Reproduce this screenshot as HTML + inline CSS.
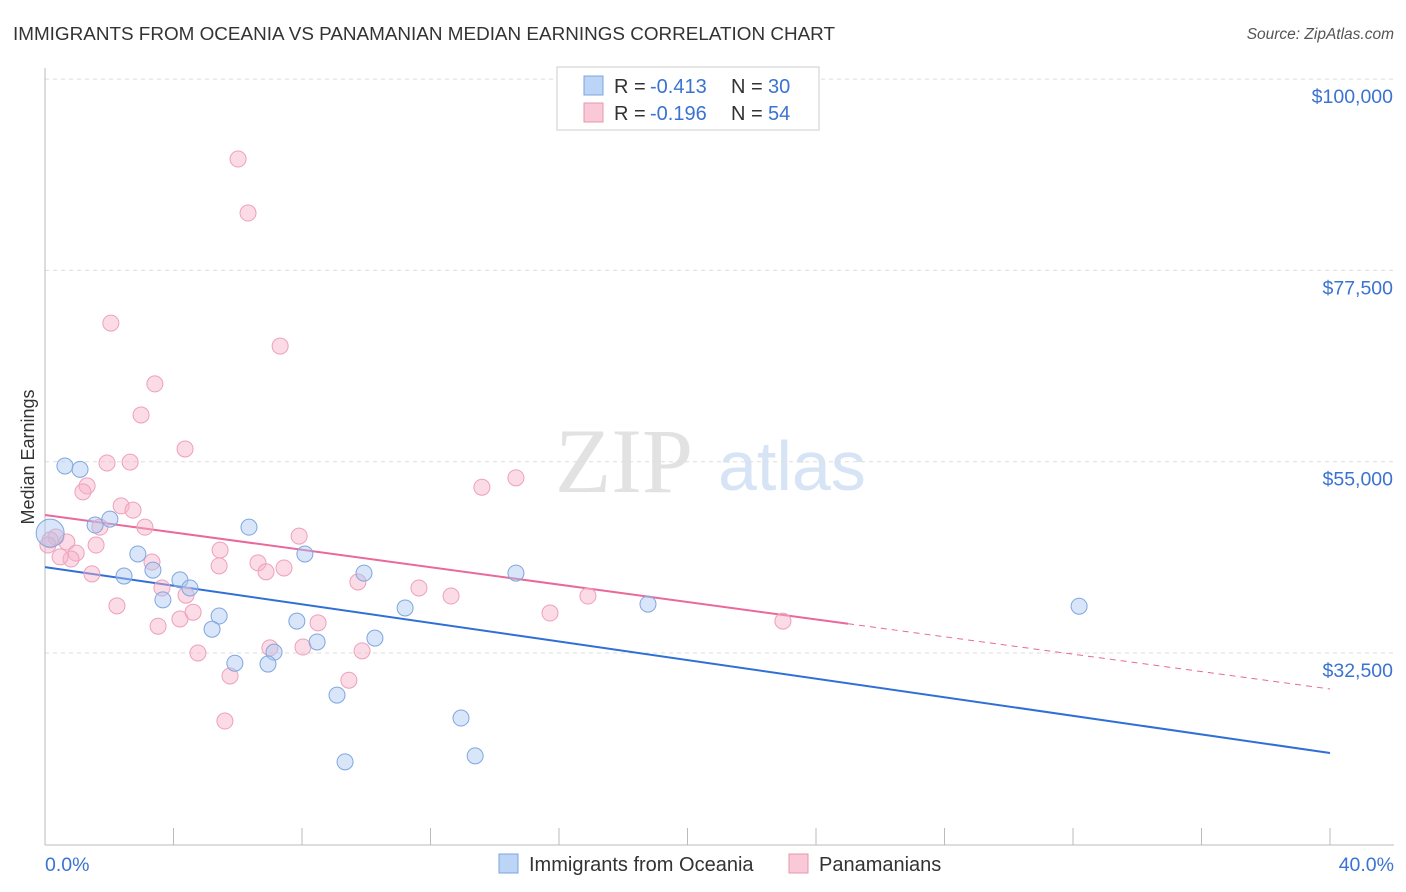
<!DOCTYPE html>
<html><head><meta charset="utf-8"><style>
body{margin:0;background:#fff;font-family:"Liberation Sans",sans-serif;}
svg{display:block}
</style></head><body>
<svg id="chart" width="1406" height="892">
<text x="13" y="40" font-size="18" fill="#333" textLength="822" lengthAdjust="spacingAndGlyphs">IMMIGRANTS FROM OCEANIA VS PANAMANIAN MEDIAN EARNINGS CORRELATION CHART</text>
<text x="1394" y="39" font-size="15.5" fill="#555" font-style="italic" text-anchor="end">Source: ZipAtlas.com</text>
<text x="34" y="457" font-size="18" fill="#333" text-anchor="middle" transform="rotate(-90 34 457)">Median Earnings</text>
<text x="555" y="492" font-size="92" fill="#e2e2e2" font-family="Liberation Serif">ZIP</text>
<text x="718" y="490" font-size="70" fill="#d6e4f5">atlas</text>
<g id="grid"></g><g id="axes"></g><g id="lines"></g><g id="pts"></g>
<g font-size="20">
<rect x="557" y="67" width="262" height="63" fill="#fff" stroke="#ccc"/>
<rect x="584" y="76" width="19" height="19" fill="#bcd4f5" stroke="#7aa6e0"/>
<text x="614" y="93" fill="#333">R =</text><text x="650" y="93" fill="#3a73d1">-0.413</text>
<text x="731" y="93" fill="#333">N =</text><text x="768" y="93" fill="#3a73d1">30</text>
<rect x="584" y="103" width="19" height="19" fill="#f9c9d8" stroke="#e896b1"/>
<text x="614" y="120" fill="#333">R =</text><text x="650" y="120" fill="#3a73d1">-0.196</text>
<text x="731" y="120" fill="#333">N =</text><text x="768" y="120" fill="#3a73d1">54</text>
</g>
<g>
<rect x="499" y="854" width="19" height="19" fill="#bcd4f5" stroke="#7aa6e0"/>
<text x="529" y="871" font-size="20" fill="#333">Immigrants from Oceania</text>
<rect x="789" y="854" width="19" height="19" fill="#f9c9d8" stroke="#e896b1"/>
<text x="819" y="871" font-size="20" fill="#333">Panamanians</text>
</g>
</svg>
<script>
const yTicks=[32500,55000,77500,100000];
const yTickLabels=["$32,500","$55,000","$77,500","$100,000"];
const xTickLabels=["0.0%","40.0%"];
const blueX=[0.62,1.09,1.56,2.02,2.89,2.46,3.36,4.20,4.51,3.67,5.42,5.20,6.35,8.09,7.84,8.47,7.13,5.91,6.94,9.09,9.34,9.93,10.27,11.21,12.95,13.39,14.66,18.77,32.19,0.16];
const blueY=[54500,54100,47550,48250,44150,41550,42250,41100,40150,38750,36850,35300,47300,44150,36250,33800,32600,31300,31200,27550,19700,41900,34250,37800,24850,20400,41900,38250,38000,46600];
const pinkX=[6.01,6.32,2.05,7.32,3.42,2.99,4.36,1.93,2.65,1.31,1.18,2.37,2.74,3.11,1.71,0.34,0.16,0.68,1.59,0.97,0.81,0.47,1.46,3.33,3.64,2.24,3.52,4.20,4.61,4.39,5.45,5.42,6.63,6.88,7.44,7.91,8.50,8.03,7.00,4.76,5.76,5.60,9.46,9.87,9.74,11.64,12.64,13.60,14.66,15.72,16.90,22.97,0.09];
const pinkY=[90600,84250,71300,68600,64150,60500,56500,54850,54950,52150,51450,49800,49300,47300,47300,46150,45800,45550,45200,44250,43550,43800,41800,43200,40150,38050,35650,36500,37300,39300,44600,42750,43100,42050,42500,46250,36050,33200,33100,32500,29800,24500,29300,32750,40850,40150,39200,52000,53100,37200,39200,36250,45200];
const blueTrend=[42600,20740];
const pinkTrend=[48730,28270];
const pinkSolidEnd=25;
const NS="http://www.w3.org/2000/svg";
const X=v=>45+v/40*1285;
const Y=v=>653-(v-32500)/22500*191.3;
function mk(tag,attrs,parent){const e=document.createElementNS(NS,tag);for(const k in attrs)e.setAttribute(k,attrs[k]);document.getElementById(parent).appendChild(e);return e;}
yTicks.forEach((t,i)=>{
 const l=mk('line',{x1:45,x2:1394,y1:Y(t),y2:Y(t),stroke:'#ddd','stroke-dasharray':'4,4'},'grid');
 
 
 const tx=mk('text',{x:1393,y:Y(t)+24,'font-size':19.5,fill:'#3a73d1','text-anchor':'end'},'grid');
 tx.textContent=yTickLabels[i];
 
 
});
let a=mk('line',{x1:45,x2:1394,y1:845,y2:845,stroke:'#bbb'},'axes');


a=mk('line',{x1:45,x2:45,y1:68,y2:845,stroke:'#bbb'},'axes');


for(let i=0;i<=10;i++){const t=mk('line',{x1:X(i*4),x2:X(i*4),y1:828,y2:845,stroke:'#bbb'},'axes');
 
 }
[[0,'start',45],[40,'end',1394]].forEach((d,i)=>{const t=mk('text',{x:d[2],y:871,'font-size':19.5,fill:'#3a73d1','text-anchor':d[1]},'axes');t.textContent=xTickLabels[i];
 
 });
const lerp=(tr,x)=>tr[0]+(tr[1]-tr[0])*x/40;
let ln=mk('line',{x1:X(0),y1:Y(blueTrend[0]),x2:X(40),y2:Y(blueTrend[1]),stroke:'#2f6fd6','stroke-width':2},'lines');


ln=mk('line',{x1:X(0),y1:Y(pinkTrend[0]),x2:X(pinkSolidEnd),y2:Y(lerp(pinkTrend,pinkSolidEnd)),stroke:'#e8699a','stroke-width':2},'lines');


ln=mk('line',{x1:X(pinkSolidEnd),y1:Y(lerp(pinkTrend,pinkSolidEnd)),x2:X(40),y2:Y(pinkTrend[1]),stroke:'#e8699a','stroke-width':1,'stroke-dasharray':'6,5'},'lines');


pinkX.forEach((x,i)=>{const c=mk('circle',{cx:X(x),cy:Y(pinkY[i]),r:8,fill:'rgba(246,178,200,0.45)',stroke:'#eea0ba','stroke-width':1},'pts');
 
 });
blueX.forEach((x,i)=>{const c=mk('circle',{cx:X(x),cy:Y(blueY[i]),r:i==blueX.length-1?14:8,fill:'rgba(170,198,240,0.45)',stroke:'#7ea7e0','stroke-width':1},'pts');
 
 });
</script>
</body></html>
